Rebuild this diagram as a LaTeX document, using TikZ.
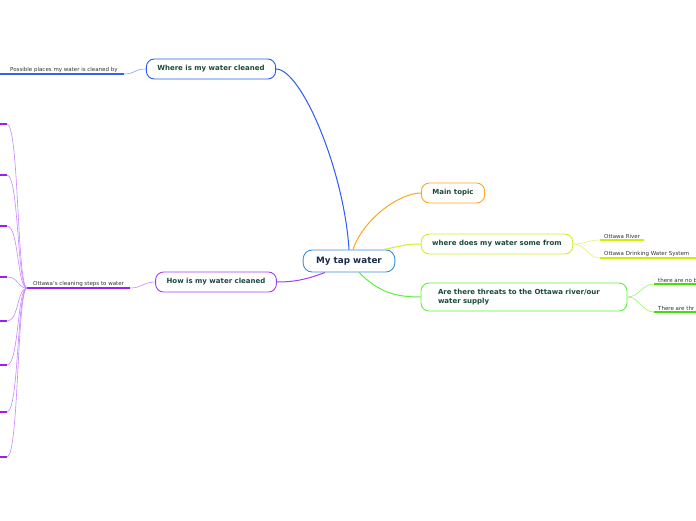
\documentclass[tikz,border=0pt]{standalone}
\usepackage{fontspec}
\setmainfont{DejaVu Sans}
\usetikzlibrary{positioning,calc}
\definecolor{centralborder}{HTML}{3D8ED8}
\definecolor{centraltext}{HTML}{1B2A4E}
\definecolor{topictext}{HTML}{1C4A3C}
\definecolor{leafgray}{HTML}{333333}
\definecolor{bluebr}{HTML}{2B5BF5}
\definecolor{bluetwig}{HTML}{86A2FF}
\definecolor{blueline}{HTML}{3560F0}
\definecolor{purplebr}{HTML}{A43FF0}
\definecolor{purpletwig}{HTML}{C988FF}
\definecolor{purpleline}{HTML}{9A20F0}
\definecolor{orangebr}{HTML}{FFA526}
\definecolor{yellowbr}{HTML}{D4EE22}
\definecolor{yellowtwig}{HTML}{E2F470}
\definecolor{yellowline}{HTML}{D0EE00}
\definecolor{greenbr}{HTML}{5EF03C}
\definecolor{greentwig}{HTML}{9CF27C}
\definecolor{greenline}{HTML}{44E000}

\begin{document}
\begin{tikzpicture}[
    x=1pt, y=-1pt,
    every node/.style={font=\fontsize{7}{8.5}\selectfont\bfseries},
    topicbox/.style={
        draw, fill=white, rounded corners=8pt,
        minimum height=20pt, inner xsep=11pt,
        text=topictext, line width=0.9pt
    },
    centralbox/.style={
        draw=centralborder, fill=white, rounded corners=9pt,
        minimum height=22pt, inner xsep=13pt,
        font=\fontsize{8.8}{10}\selectfont\bfseries,
        text=centraltext, line width=0.9pt
    },
    leaf/.style={
        font=\fontsize{5.5}{6.5}\selectfont, text=leafgray,
        anchor=south west, inner xsep=4pt, inner ysep=1.5pt
    },
    branch/.style={line width=1pt},
    twig/.style={line width=0.6pt},
    underline/.style={line width=1.4pt},
]

% ===== Canvas =====
\fill[white] (0,0) rectangle (696,520);
\useasboundingbox (0,0) rectangle (696,520);

% ===== Central topic =====
\node[centralbox] (tap) at (349,261) {My tap water};

% ===== Main topics =====
\node[topicbox, draw=bluebr] (where) at (211,69) {Where is my water cleaned};
\node[topicbox, draw=purplebr] (how) at (216,282) {How is my water cleaned};
\node[topicbox, draw=orangebr] (main) at (453,193) {Main topic};
\node[topicbox, draw=yellowbr] (source) at (497,244) {where does my water some from};
\node[topicbox, draw=greenbr, text width=172pt, align=left,
      inner xsep=17pt, minimum height=28pt] (threats) at (524,297)
    {Are there threats to the Ottawa river/our water supply};

% ===== Leaves =====
\node[leaf, inner xsep=6pt] (places) at (4,74) {Possible places my water is cleaned by};
\node[leaf, inner xsep=6pt] (steps) at (27,288) {Ottawa's cleaning steps to water};
\node[leaf] (river) at (600,240) {Ottawa River};
\node[leaf] (system) at (600,258) {Ottawa Drinking Water System};
\node[leaf] (nothreat) at (654,284) {there are no b};
\node[leaf] (threat) at (654,312) {There are thr};

% ===== Underlines of leaves =====
\draw[underline, blueline] ($(places.south west)+(-6,0)$) -- (places.south east);
\draw[underline, purpleline] (steps.south west) -- (steps.south east);
\draw[underline, yellowline] (river.south west) -- (river.south east);
\draw[underline, yellowline] (system.south west) -- ++(100,0);
\draw[underline, greenline] (nothreat.south west) -- ++(50,0);
\draw[underline, greenline] (threat.south west) -- ++(50,0);

% ===== Branches from central topic =====
\draw[branch, bluebr] (tap.north) .. controls ($(tap.north)+(-5,-80)$) and ($(where.east)+(25,0)$) .. (where.east);
\draw[branch, orangebr] ($(tap.north)+(4,0)$) .. controls ($(tap.north)+(14,-30)$) and ($(main.west)+(-22,0)$) .. (main.west);
\draw[branch, yellowbr] ($(tap.north east)+(-12,0)$) .. controls ($(tap.north east)+(8,-4)$) and ($(source.west)+(-15,0)$) .. (source.west);
\draw[branch, greenbr] ($(tap.south)+(10,0)$) .. controls ($(tap.south)+(30,20)$) and ($(threats.west)+(-25,0)$) .. (threats.west);
\draw[branch, purplebr] ($(tap.south)+(-24,0)$) .. controls ($(tap.south)+(-45,8)$) and ($(how.east)+(15,0)$) .. (how.east);

% ===== Twigs to leaves =====
\draw[twig, bluetwig] (where.west) .. controls ($(where.west)+(-12,0)$) and ($(places.south east)+(12,0)$) .. (places.south east);
\draw[twig, purpletwig] (how.west) .. controls ($(how.west)+(-12,0)$) and ($(steps.south east)+(12,0)$) .. (steps.south east);
\draw[twig, yellowtwig] (source.east) .. controls ($(source.east)+(12,0)$) and ($(river.south west)+(-12,0)$) .. (river.south west);
\draw[twig, yellowtwig] (source.east) .. controls ($(source.east)+(12,0)$) and ($(system.south west)+(-12,0)$) .. (system.south west);
\draw[twig, greentwig] (threats.east) .. controls ($(threats.east)+(12,0)$) and ($(nothreat.south west)+(-12,0)$) .. (nothreat.south west);
\draw[twig, greentwig] (threats.east) .. controls ($(threats.east)+(12,0)$) and ($(threat.south west)+(-12,0)$) .. (threat.south west);

% ===== Cleaning steps (cut off at the left edge) =====
\foreach \y [count=\i] in {124,175,226,277,321,365,412,457} {
    \coordinate (s\i) at (7,\y);
    \draw[underline, purpleline] (s\i) -- ++(-12,0);
    \draw[twig, purpletwig] (steps.south west) .. controls ($(steps.south west)+(-10,0)$) and ($(s\i)+(12,0)$) .. (s\i);
}

\end{tikzpicture}
\end{document}
